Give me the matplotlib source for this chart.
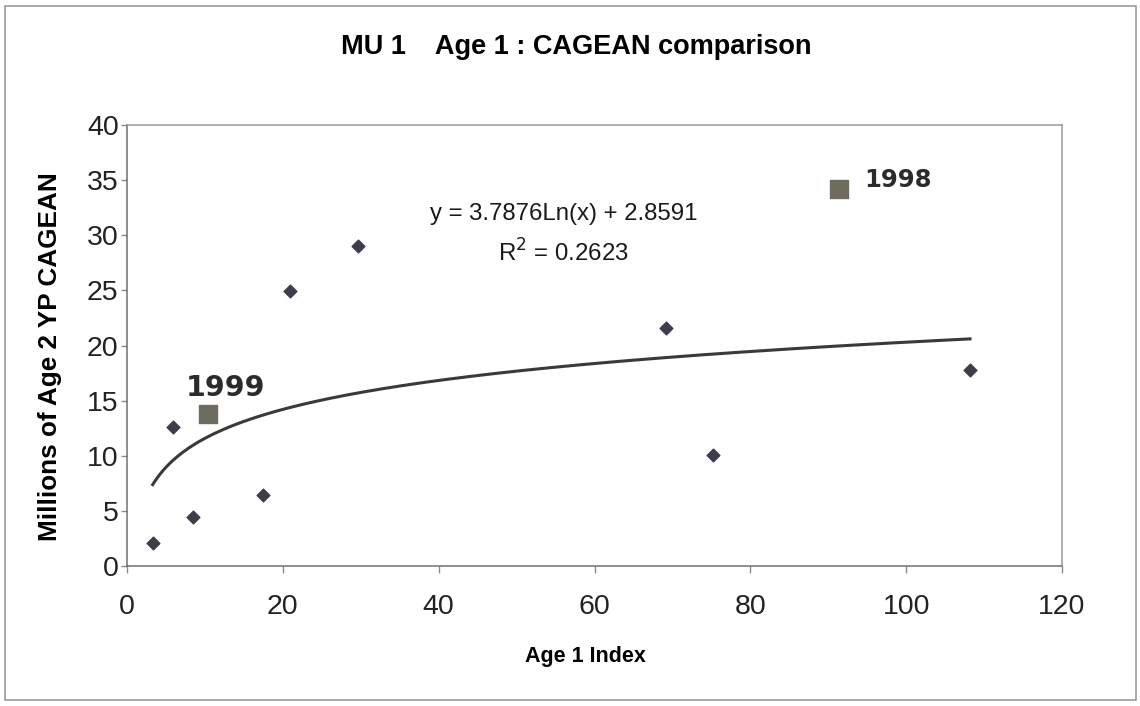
import numpy as np
import matplotlib
matplotlib.use("Agg")
import matplotlib.pyplot as plt
from matplotlib.patches import Rectangle

# Age 1 index vs. CAGEAN estimate (millions of age 2 YP)
index_other = [3.3, 5.9, 8.5, 17.5, 20.9, 29.6, 69.2, 75.2, 108.2]
cagean_other = [2.1, 12.6, 4.4, 6.4, 24.9, 29.0, 21.6, 10.1, 17.8]

index_years = [10.4, 91.4]
cagean_years = [13.8, 34.2]
year_labels = ["1999", "1998"]

# Logarithmic trend line coefficients
trend_a = 3.7876
trend_b = 2.8591
trend_r2 = 0.2623

x_ticks = [0, 20, 40, 60, 80, 100, 120]
y_ticks = [0, 5, 10, 15, 20, 25, 30, 35, 40]

plt.rcParams['font.family'] = ['Liberation Sans', 'DejaVu Sans']

fig = plt.figure(figsize=(11.4, 7.06), dpi=100)
ax = fig.add_axes([127 / 1140, 1 - 566 / 706, (1062 - 127) / 1140, (566 - 125) / 706])

# outer chart border
fig.patches.append(Rectangle((5 / 1140, 6 / 706), 1131 / 1140, 694 / 706,
                             transform=fig.transFigure, fill=False,
                             edgecolor="#9a9a9a", linewidth=1.2))

all_x = index_other + index_years
xs = np.linspace(min(all_x), max(all_x), 300)
ax.plot(xs, trend_a * np.log(xs) + trend_b, color="#3a3a3a", linewidth=2.2, zorder=2)

ax.scatter(index_other, cagean_other, marker="D", s=42, color="#3d3d4c",
           edgecolors="#3d3d4c", zorder=3)
ax.scatter(index_years, cagean_years, marker="s", s=150, color="#6e6c5e",
           edgecolors="#6e6c5e", zorder=3)

ax.text(index_years[0] + 2.2, cagean_years[0] + 1.1, year_labels[0],
        family="DejaVu Sans", fontweight="bold", fontsize=20.5, color="#2b2b2b",
        ha="center", va="bottom")
ax.text(index_years[1] + 3.2, cagean_years[1] + 0.8, year_labels[1],
        family="DejaVu Sans", fontweight="bold", fontsize=17.5, color="#2b2b2b",
        ha="left", va="center")

ax.text(56.0, 31.9, f"y = {trend_a}Ln(x) + {trend_b}", fontsize=17.3,
        ha="center", va="center", color="#1a1a1a")
ax.text(56.0, 28.4, f"R$^2$ = {trend_r2}", fontsize=17.3,
        ha="center", va="center", color="#1a1a1a")

ax.set_xlim(0, 120)
ax.set_ylim(0, 40)
ax.set_xticks(x_ticks)
ax.set_yticks(y_ticks)
ax.tick_params(axis="both", labelsize=20.5, colors="#8a8a8a", labelcolor="#222222",
               length=5, width=1)
ax.tick_params(axis="x", pad=15)
ax.tick_params(axis="y", pad=2, length=4)
for s in ax.spines.values():
    s.set_color("#9a9a9a")
    s.set_linewidth(1.1)
ax.spines["left"].set_color("#707070")
ax.spines["bottom"].set_color("#707070")

ax.set_xlabel("Age 1 Index", fontsize=15.5, fontweight="bold")
ax.set_ylabel("Millions of Age 2 YP CAGEAN", fontsize=18.8, fontweight="bold")
ax.xaxis.set_label_coords(0.49, -0.182)
ax.yaxis.set_label_coords(-0.069, 0.474)
fig.text(576 / 1140, 1 - 47 / 706, "MU 1    Age 1 : CAGEAN comparison",
         fontsize=19.5, fontweight="bold", ha="center", va="center")

fig.savefig("out.png", dpi=100)
